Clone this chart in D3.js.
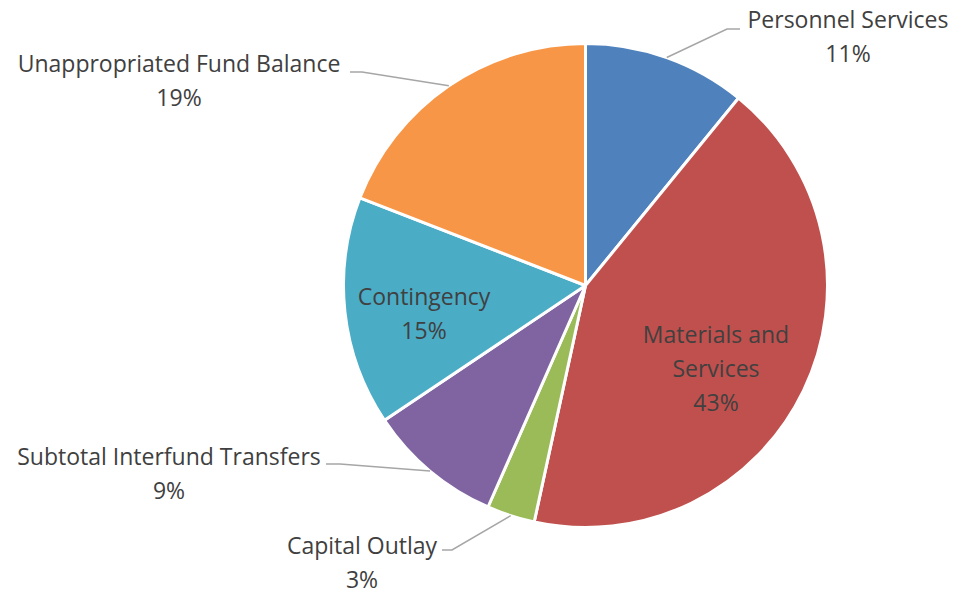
<!DOCTYPE html>
<html>
<head>
<meta charset="utf-8">
<script src="https://cdn.jsdelivr.net/npm/d3@7"></script>
<style>
  html, body { margin: 0; padding: 0; background: #fff; }
  svg { display: block; }
</style>
</head>
<body>
<div id="chart"></div>
<script>
const CATEGORIES = [
   "Personnel Services",
   "Materials and Services",
   "Capital Outlay",
   "Subtotal Interfund Transfers",
   "Contingency",
   "Unappropriated Fund Balance"
];
const VALUES = [10.9, 42.5, 3.2, 9.0, 15.3, 19.1];
const PCT_LABELS = ["11%", "43%", "3%", "9%", "15%", "19%"];
const COLORS = ["#4F81BD", "#C0504D", "#9BBB59", "#8064A2", "#4BACC6", "#F79646"];

const WIDTH = 960;
const HEIGHT = 595;
const CX = 585.5;
const CY = 285.5;
const RADIUS = 242;
const FONT_SIZE = 23;
const LINE_H = 34;

// label placement for each slice (lines of text, center x, first line middle y, leader elbow/end)
const LABELS = [
   { lines: ["Personnel Services"], x: 848, y: 20, leader: { elbow: [727, 29], end: [740, 29] } },
   { lines: ["Materials and", "Services"], x: 716, y: 335 },
   { lines: ["Capital Outlay"], x: 362, y: 546, leader: { elbow: [452, 550], end: [442, 550] } },
   { lines: ["Subtotal Interfund Transfers"], x: 169, y: 457, leader: { elbow: [340, 464], end: [326, 464] } },
   { lines: ["Contingency"], x: 424, y: 297 },
   { lines: ["Unappropriated Fund Balance"], x: 179, y: 64, leader: { elbow: [362, 72], end: [350, 72] } }
];

const svg = d3.select("#chart")
   .append("svg")
   .attr("width", WIDTH)
   .attr("height", HEIGHT);

const pie = d3.pie().sort(null).value(d => d);
const arcs = pie(VALUES);
const arc = d3.arc().innerRadius(0).outerRadius(RADIUS);

const g = svg.append("g").attr("transform", `translate(${CX},${CY})`);

g.selectAll("path")
   .data(arcs)
   .join("path")
   .attr("d", arc)
   .attr("fill", (d, i) => COLORS[i])
   .attr("stroke", "#fff")
   .attr("stroke-width", 3)
   .attr("stroke-linejoin", "round");

// leader lines, from the slice's outer mid point
arcs.forEach((a, i) => {
   const lab = LABELS[i];
   if (!lab.leader) return;
   const [mx, my] = arc.centroid(a);
   const ang = Math.atan2(my, mx);
   const px = CX + Math.cos(ang) * RADIUS;
   const py = CY + Math.sin(ang) * RADIUS;
   svg.append("polyline")
      .attr("points", [[px, py], lab.leader.elbow, lab.leader.end].map(p => p.join(",")).join(" "))
      .attr("fill", "none")
      .attr("stroke", "#A6A6A6")
      .attr("stroke-width", 1.5);
});

// labels
LABELS.forEach((lab, i) => {
   const lines = lab.lines.concat([PCT_LABELS[i]]);
   const t = svg.append("text")
      .attr("text-anchor", "middle")
      .attr("font-family", "'Open Sans', 'Noto Sans', sans-serif")
      .attr("font-size", FONT_SIZE)
      .attr("fill", "#404040");
   lines.forEach((ln, j) => {
      t.append("tspan")
         .attr("x", lab.x)
         .attr("y", lab.y + j * LINE_H)
         .attr("dy", "0.35em")
         .text(ln);
   });
});
</script>
</body>
</html>
